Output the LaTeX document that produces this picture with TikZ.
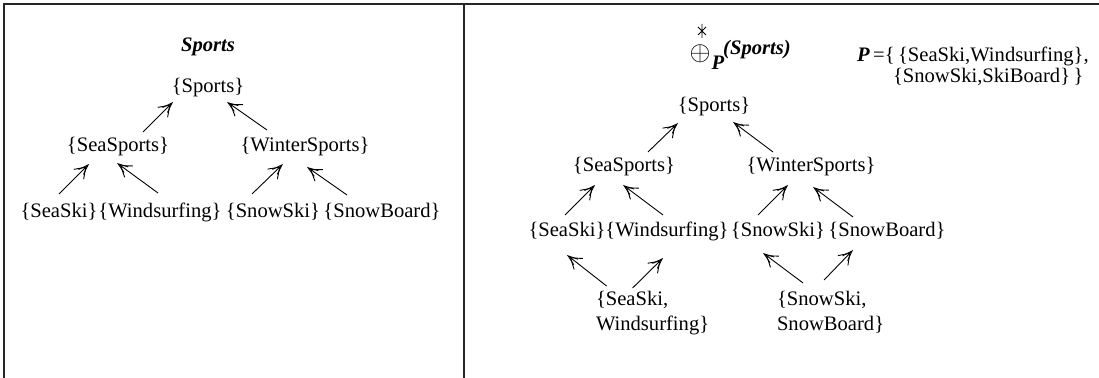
\documentclass[tikz,border=0pt]{standalone}
\usepackage{fontspec}
\setmainfont{Liberation Serif}
\usetikzlibrary{arrows.meta}

\begin{document}
\begin{tikzpicture}[x=0.5pt,y=-0.5pt,
    every node/.style={font=\fontsize{10.3}{12.5}\selectfont},
    set/.style={inner sep=0pt,outer sep=4.5pt,text height=7.5pt,text depth=2.5pt},
    ttl/.style={set,font=\fontsize{10.3}{12.5}\selectfont\bfseries\itshape},
    pair/.style={inner sep=0pt,outer sep=0pt,align=left,anchor=north west},
    arr/.style={line width=0.45pt,-{Straight Barb[length=5pt,width=7pt,sep=-4pt]Straight Barb[length=5pt,width=3.5pt]}},
    frame/.style={line width=0.8pt,black!85}]
        \useasboundingbox (0,0) rectangle (1099,378);
        \draw[frame] (4,378) -- (4,4) -- (1099,4);
        \draw[frame] (464,4) -- (464,378);

        % left panel
        \node[ttl] (title) at (208,47) {Sports};
        \node[set] (sports) at (208,88) {\{Sports\}};
        \node[set] (seasports) at (118,147) {\{SeaSports\}};
        \node[set] (winter) at (305,147) {\{WinterSports\}};
        \node[set] (seaski) at (59,213) {\{SeaSki\}};
        \node[set] (wind) at (160,213) {\{Windsurfing\}};
        \node[set] (snowski) at (273,213) {\{SnowSki\}};
        \node[set] (snowboard) at (382,213) {\{SnowBoard\}};

        \draw[arr] ([shift={(25,4)}]seasports.north) -- ([shift={(-35,-5)}]sports.south);
        \draw[arr] ([shift={(-38,2)}]winter.north) -- ([shift={(19,-5)}]sports.south);
        \draw[arr] (seaski.north) -- ([shift={(-29,-2)}]seasports.south);
        \draw[arr] ([shift={(-2,-1)}]wind.north) -- ([shift={(-1,-3)}]seasports.south);
        \draw[arr] ([shift={(-21,0)}]snowski.north) -- ([shift={(-22,-2)}]winter.south);
        \draw[arr] ([shift={(-35,1)}]snowboard.north) -- ([shift={(2,1)}]winter.south);

        % right panel
        \draw[line width=0.45pt] (702,24) -- (702,38) (698,27) -- (706,35) (706,27) -- (698,35);
        \node[scale=1.35,inner sep=0pt] (oplus) at (700,54) {$\oplus$};
        \node[ttl] (psub) at (718,65) {P};
        \node[ttl] (psup) at (757,50) {(Sports)};
        \node[set,anchor=west] (pdef) at (848,57) {\textbf{\textit{P}}\,=\{\,\{SeaSki,Windsurfing\},};
        \node[set,anchor=west] (pdef2) at (884,78) {\{SnowSki,SkiBoard\}\,\}};

        \node[set] (rsports) at (714,107) {\{Sports\}};
        \node[set] (rseasports) at (624,167) {\{SeaSports\}};
        \node[set] (rwinter) at (811,167) {\{WinterSports\}};
        \node[set] (rseaski) at (567,232) {\{SeaSki\}};
        \node[set] (rwind) at (667,232) {\{Windsurfing\}};
        \node[set] (rsnowski) at (778,232) {\{SnowSki\}};
        \node[set] (rsnowboard) at (887,232) {\{SnowBoard\}};
        \node[pair] (seawind) at (596,291) {\{SeaSki,\\Windsurfing\}};
        \node[pair] (snowpair) at (777,291) {\{SnowSki,\\SnowBoard\}};

        \draw[arr] ([shift={(24,4)}]rseasports.north) -- ([shift={(-36,-3)}]rsports.south);
        \draw[arr] ([shift={(-38,4)}]rwinter.north) -- ([shift={(19,-4)}]rsports.south);
        \draw[arr] ([shift={(-2,2)}]rseaski.north) -- ([shift={(-29,-1)}]rseasports.south);
        \draw[arr] ([shift={(-4,2)}]rwind.north) -- ([shift={(-1,-1)}]rseasports.south);
        \draw[arr] ([shift={(-20,2)}]rsnowski.north) -- ([shift={(-23,-1)}]rwinter.south);
        \draw[arr] ([shift={(-34,4)}]rsnowboard.north) -- ([shift={(2,1)}]rwinter.south);

        \draw[arr] ([shift={(-46,-5)}]seawind.north) -- ([shift={(0,4)}]rseaski.south);
        \draw[arr] ([shift={(-20,-3)}]seawind.north) -- ([shift={(-4,7)}]rwind.south);
        \draw[arr] ([shift={(-27.5,-8)}]snowpair.north) -- ([shift={(-15,2)}]rsnowski.south);
        \draw[arr] ([shift={(-6.5,-11)}]snowpair.north) -- ([shift={(-34,-1)}]rsnowboard.south);
\end{tikzpicture}
\end{document}
